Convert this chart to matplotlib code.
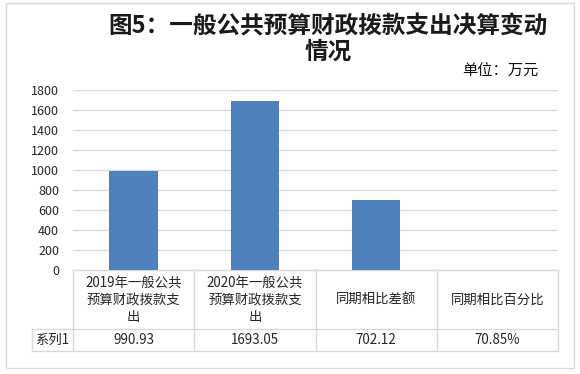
"""
Budget appropriation expenditure chart (Excel-style bar chart with data table).
"""

import matplotlib
matplotlib.use("Agg")
import matplotlib.pyplot as plt
from matplotlib.patches import Rectangle

plt.rcParams['font.family'] = ['Noto Sans CJK SC', 'DejaVu Sans']

# chart data
categories = ["2019年一般公共\n预算财政拨款支\n出", "2020年一般公共\n预算财政拨款支\n出",
              "同期相比差额", "同期相比百分比"]
values = [990.93, 1693.05, 702.12, 0.7085]
value_labels = ["990.93", "1693.05", "702.12", "70.85%"]
series_name = "系列1"
y_ticks = [0, 200, 400, 600, 800, 1000, 1200, 1400, 1600, 1800]

title_lines = ["图5：一般公共预算财政拨款支出决算变动", "情况"]
unit = "单位：万元"

W, H = 580, 374
BAR = '#4F81BD'
GRID = '#D9D9D9'
TXT = '#262626'


def fx(px):
    return px / W


def fy(py):
    return (H - py) / H


fig = plt.figure(figsize=(5.8, 3.74), dpi=100)

# outer chart border
fig.patches.append(Rectangle((fx(6), fy(368)), fx(568), 365 / H, transform=fig.transFigure,
                             fill=False, edgecolor=GRID, linewidth=1.0))

# plot area: x 73..558, y 90..270 (pixels from top)
ax = fig.add_axes([fx(73), fy(270), fx(485), 180 / H])
x = list(range(len(categories)))
ax.bar(x, values, width=0.4, color=BAR, zorder=3)
ax.set_xlim(-0.5, len(categories) - 0.5)
ax.set_ylim(0, 1800)
ax.set_yticks(y_ticks)
ax.set_yticklabels([str(t) for t in y_ticks], fontsize=9, color=TXT)
ax.tick_params(axis='y', length=0, pad=10)
ax.set_xticks([])
ax.grid(axis='y', color=GRID, linewidth=1.0, zorder=0)
for s in ax.spines.values():
    s.set_visible(False)

# data table below the axis (axes coordinates, 180 px per unit in y)
row1 = -59 / 180
row2 = -81 / 180
left_cell = -(73 - 32) / 485
line_kw = dict(transform=ax.transAxes, clip_on=False, color=GRID, linewidth=1.0)
ax.plot([0, 1], [0, 0], **line_kw)
ax.plot([left_cell, 1], [row1, row1], **line_kw)
ax.plot([left_cell, 1], [row2, row2], **line_kw)
ax.plot([left_cell, left_cell], [row1, row2], **line_kw)
for i in range(len(categories) + 1):
    ax.plot([i / len(categories)] * 2, [0, row2], **line_kw)

for i, (cat, lab) in enumerate(zip(categories, value_labels)):
    cx = (i + 0.5) / len(categories)
    ax.text(cx, row1 / 2, cat, transform=ax.transAxes, ha='center', va='center',
            fontsize=9.6, color=TXT, linespacing=1.3, multialignment='center')
    ax.text(cx, (row1 + row2) / 2, lab, transform=ax.transAxes, ha='center', va='center',
            fontsize=9.6, color=TXT)
ax.text(left_cell / 2, (row1 + row2) / 2, series_name, transform=ax.transAxes,
        ha='center', va='center', fontsize=9.6, color=TXT)

# titles
fig.text(fx(328), fy(27), title_lines[0], ha='center', va='center', fontsize=17,
         fontweight='bold', color='#1a1a1a')
fig.text(fx(328), fy(52), title_lines[1], ha='center', va='center', fontsize=17,
         fontweight='bold', color='#1a1a1a')
fig.text(fx(500), fy(71), unit, ha='center', va='center', fontsize=11, color='#111111')

fig.savefig("out.png", dpi=100)
